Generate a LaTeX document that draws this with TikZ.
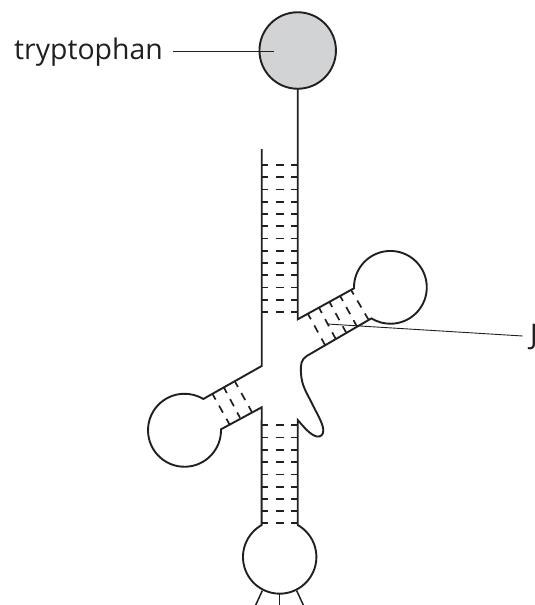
\documentclass[tikz,border=0pt]{standalone}
\usepackage{fontspec}
\setmainfont{Open Sans}
\definecolor{ink}{HTML}{231F20}
\definecolor{ligand}{HTML}{D1D3D4}
\tikzset{x=1pt,y=1pt,
  strand/.style={draw=ink,line width=1.9pt,line join=miter},
  leader/.style={draw=ink,line width=0.9pt},
  leg/.style={draw=ink,line width=1.5pt},
  rung/.style={draw=ink,line width=1.7pt,dash pattern=on 6.5pt off 7.5pt on 8pt off 7.5pt on 8pt},
  armrung/.style={draw=ink,line width=1.7pt,dash pattern=on 6pt off 7pt on 8pt off 7pt on 8pt},
  lab/.style={text=ink,inner sep=0pt,font=\fontsize{28.4}{32}\selectfont}}
\newcommand{\hrungs}[3]{\foreach \yy in {#3}{\draw[rung] (#1,-\yy) -- (#2,-\yy);}}
\begin{document}
\begin{tikzpicture}
\useasboundingbox (0,0) rectangle (535,-605);
% ligand
\node[circle,draw=ink,fill=ligand,line width=1.9pt,minimum size=76.5pt,inner sep=0pt] (trp) at (297.7,-50.5) {};
\node[lab,anchor=base west] (trplabel) at (14,-59) {tryptophan};
\coordinate (trpin) at (274,-51);
\draw[leader] (173,-51) -- (trpin);
% rungs, upper stem
\hrungs{261.7}{297.7}{165,177.25,189.5,201.75,214,226.25,238.5,250.75,263,275.25,287.5,299.75,312}
% rungs, lower stem
\hrungs{261.7}{297.7}{425.3,437.6,449.9,462.2,474.4,486.7,499,511,523.2}
% rungs, right arm
\foreach \a/\b/\c/\d in {308/314/325/345, 319/307.7/335.5/338.5, 329.3/301.7/346/332.3, 340/295.7/356.7/326, 350.7/289.3/368.3/319.3}
  {\draw[armrung] (\a,-\b) -- (\c,-\d);}
% rungs, left arm
\foreach \a/\b/\c/\d in {212.7/394.3/229.3/424, 224/387.7/240/417.7, 235/381.7/251.7/411.7}
  {\draw[armrung] (\a,-\b) -- (\c,-\d);}
% backbone
\draw[strand] (297.7,-89) -- (297.7,-319.3) -- (354,-288.3)
  arc[start angle=181.5,end angle=-121.5,radius=36.4]
  -- (306.7,-356)
  .. controls (301,-359.5) and (300.5,-365) .. (301,-373)
  .. controls (301.5,-386) and (307,-393) .. (311.7,-403)
  .. controls (316,-412) and (323,-423) .. (323.3,-430)
  .. controls (323.5,-435) and (320.5,-437) .. (317,-436.5)
  .. controls (310,-435) and (304,-427) .. (297.7,-420)
  -- (297.7,-525)
  arc[start angle=60.6,end angle=-240.6,radius=36.7]
  -- (261.7,-407.3) -- (221,-429.3)
  arc[start angle=1.5,end angle=-301,radius=36.5]
  -- (261.7,-366) -- (261.7,-149);
% legs
\draw[leg] (262.3,-590.7) -- (255.7,-605);
\draw[leg] (279.5,-594) -- (279.5,-605);
\draw[leg] (296.7,-590.7) -- (303.3,-605);
% J label
\coordinate (jstem) at (327.3,-324);
\node[lab,anchor=base west] (jlabel) at (530,-344) {J};
\draw[leader] (jstem) -- (522.7,-336);
\end{tikzpicture}
\end{document}
